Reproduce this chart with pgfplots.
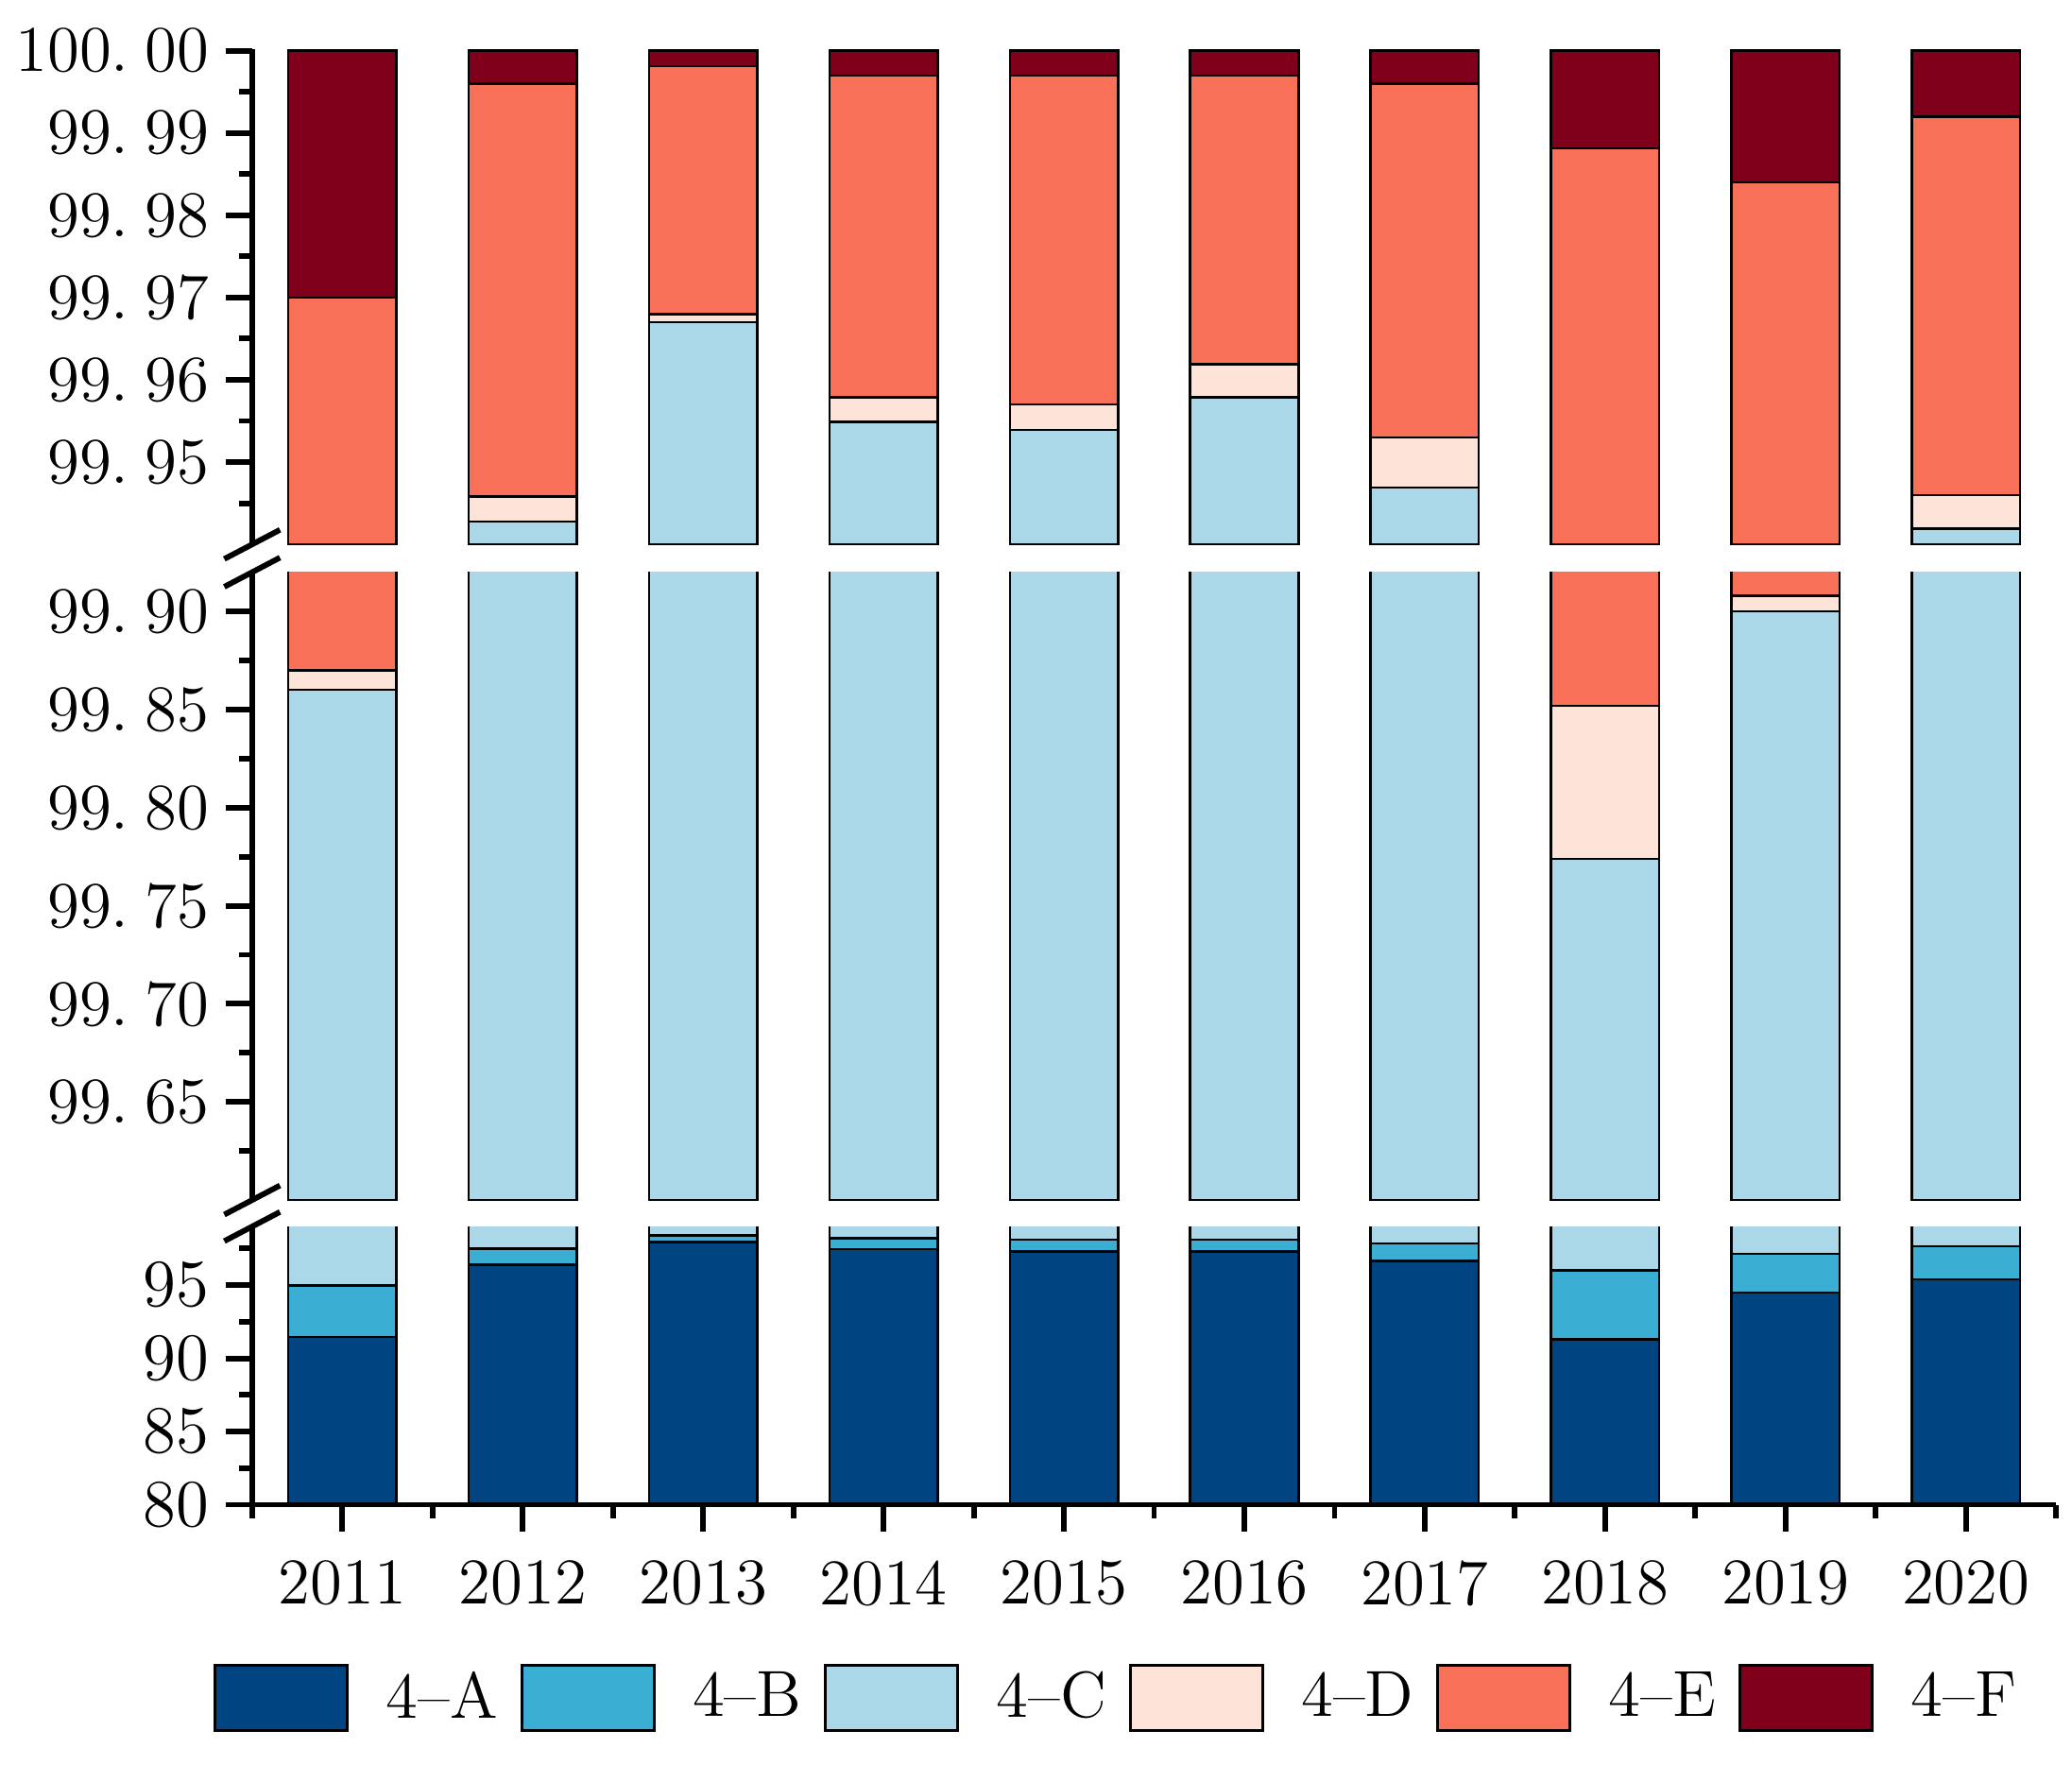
\documentclass[border=0pt]{standalone}
\usepackage{pgfplots}
\usepackage{pgfplotstable}
\pgfplotsset{compat=1.18}

\definecolor{cA}{HTML}{004581}
\definecolor{cB}{HTML}{3BAFD3}
\definecolor{cC}{HTML}{AAD8E9}
\definecolor{cD}{HTML}{FEE4D8}
\definecolor{cE}{HTML}{F87058}
\definecolor{cF}{HTML}{80001C}

% cumulative top of each segment (%), years 2011..2020 at x=0..9
\pgfplotstableread{
x A     B     C       D       E       F
0 91.45 94.97 99.8600 99.8700 99.9700 100
1 96.40 97.50 99.9428 99.9458 99.9960 100
2 97.95 98.40 99.9670 99.9680 99.9981 100
3 97.45 98.20 99.9549 99.9579 99.9970 100
4 97.30 98.10 99.9539 99.9570 99.9970 100
5 97.30 98.10 99.9579 99.9619 99.9970 100
6 96.65 97.85 99.9469 99.9530 99.9960 100
7 91.30 96.00 99.7740 99.8520 99.9881 100
8 94.50 97.15 99.9000 99.9080 99.9840 100
9 95.40 97.65 99.9419 99.9460 99.9920 100
}\cumdata

\newcommand{\dk}{.\kern0.25em}

\pgfplotsset{
  brk/.style={
    scale only axis, width=13.62cm,
    xmin=-0.5, xmax=9.5,
    ybar, bar width=0.6,
    axis y line*=left,
    y axis line style={-, line width=1.2pt},
    tick align=outside,
    major tick length=0.2cm, minor tick length=0.1cm,
    tick style={black, line width=1.2pt},
    tick label style={font=\fontsize{14}{16}\selectfont},
    scaled y ticks=false,
    axis on top,
    legend image code/.code={\draw[##1] (0cm,-0.245cm) rectangle (1.0cm,0.245cm);},
  },
  seg/.style={fill=#1, draw=black, line width=0.5pt, bar shift=0pt},
}

\begin{document}
\begin{tikzpicture}

% lower panel 80 - 99
\begin{axis}[brk, name=bot, at={(0,0)}, anchor=south west, height=2.10cm,
  axis x line*=bottom, x axis line style={-, line width=1.2pt},
  ymin=80, ymax=99, ytick={80,85,90,95}, minor ytick={82.5,87.5,92.5,97.5},
  xtick={0,...,9},
  xticklabels={2011,2012,2013,2014,2015,2016,2017,2018,2019,2020},
  minor xtick={-0.5,0.5,...,9.5},
  xticklabel style={yshift=-0.10cm},
  legend columns=6,
  legend style={draw=none, fill=none, inner sep=0pt, outer sep=0pt,
    at={(-0.0213,-0.695)}, anchor=west,
    font=\fontsize{14}{16}\selectfont,
    nodes={inner sep=0pt},
    /tikz/every odd column/.append style={column sep=0.28cm},
    /tikz/every even column/.append style={column sep=0.17cm}},
]
\addlegendimage{fill=cA, draw=black, line width=0.6pt}\addlegendentry{4\textendash A}
\addlegendimage{fill=cB, draw=black, line width=0.6pt}\addlegendentry{4\textendash B}
\addlegendimage{fill=cC, draw=black, line width=0.6pt}\addlegendentry{4\textendash C}
\addlegendimage{fill=cD, draw=black, line width=0.6pt}\addlegendentry{4\textendash D}
\addlegendimage{fill=cE, draw=black, line width=0.6pt}\addlegendentry{4\textendash E}
\addlegendimage{fill=cF, draw=black, line width=0.6pt}\addlegendentry{4\textendash F}
\addplot[seg=cF, forget plot] table[x=x, y=F]{\cumdata};
\addplot[seg=cE, forget plot] table[x=x, y=E]{\cumdata};
\addplot[seg=cD, forget plot] table[x=x, y=D]{\cumdata};
\addplot[seg=cC, forget plot] table[x=x, y=C]{\cumdata};
\addplot[seg=cB, forget plot] table[x=x, y=B]{\cumdata};
\addplot[seg=cA, forget plot] table[x=x, y=A]{\cumdata};
\end{axis}

% middle panel 99.60 - 99.92 (shown relative to 99.55)
\begin{axis}[brk, name=mid, at={(0,2.30cm)}, anchor=south west, height=4.74cm,
  axis x line=none, xtick=\empty,
  y filter/.expression={max(y,99.55)-99.55},
  ymin=0.05, ymax=0.37,
  ytick={0.10,0.15,0.20,0.25,0.30,0.35},
  yticklabels={99\dk65,99\dk70,99\dk75,99\dk80,99\dk85,99\dk90},
  minor ytick={0.075,0.125,0.175,0.225,0.275,0.325},
]
\addplot[seg=cF] table[x=x, y=F]{\cumdata};
\addplot[seg=cE] table[x=x, y=E]{\cumdata};
\addplot[seg=cD] table[x=x, y=D]{\cumdata};
\addplot[seg=cC] table[x=x, y=C]{\cumdata};
\addplot[seg=cB] table[x=x, y=B]{\cumdata};
\addplot[seg=cA] table[x=x, y=A]{\cumdata};
\end{axis}

% upper panel 99.94 - 100 (shown relative to 99.93)
\begin{axis}[brk, name=top, at={(0,7.25cm)}, anchor=south west, height=3.74cm,
  axis x line=none, xtick=\empty,
  y filter/.expression={max(y,99.93)-99.93},
  ymin=0.01, ymax=0.0702,
  ytick={0.02,0.03,0.04,0.05,0.06,0.07},
  yticklabels={99\dk95,99\dk96,99\dk97,99\dk98,99\dk99,100\dk00},
  minor ytick={0.015,0.025,0.035,0.045,0.055,0.065},
]
\addplot[seg=cF] table[x=x, y=F]{\cumdata};
\addplot[seg=cE] table[x=x, y=E]{\cumdata};
\addplot[seg=cD] table[x=x, y=D]{\cumdata};
\addplot[seg=cC] table[x=x, y=C]{\cumdata};
\addplot[seg=cB] table[x=x, y=B]{\cumdata};
\addplot[seg=cA] table[x=x, y=A]{\cumdata};
\end{axis}

% axis break marks
\foreach \p in {top.south west, mid.north west, mid.south west, bot.north west}
  \draw[line width=1.2pt] ([shift={(-0.21cm,-0.11cm)}]\p) -- ++(0.42cm,0.22cm);

\path (-1.86,-1.964) rectangle (13.74,11.36);
\end{tikzpicture}
\end{document}
